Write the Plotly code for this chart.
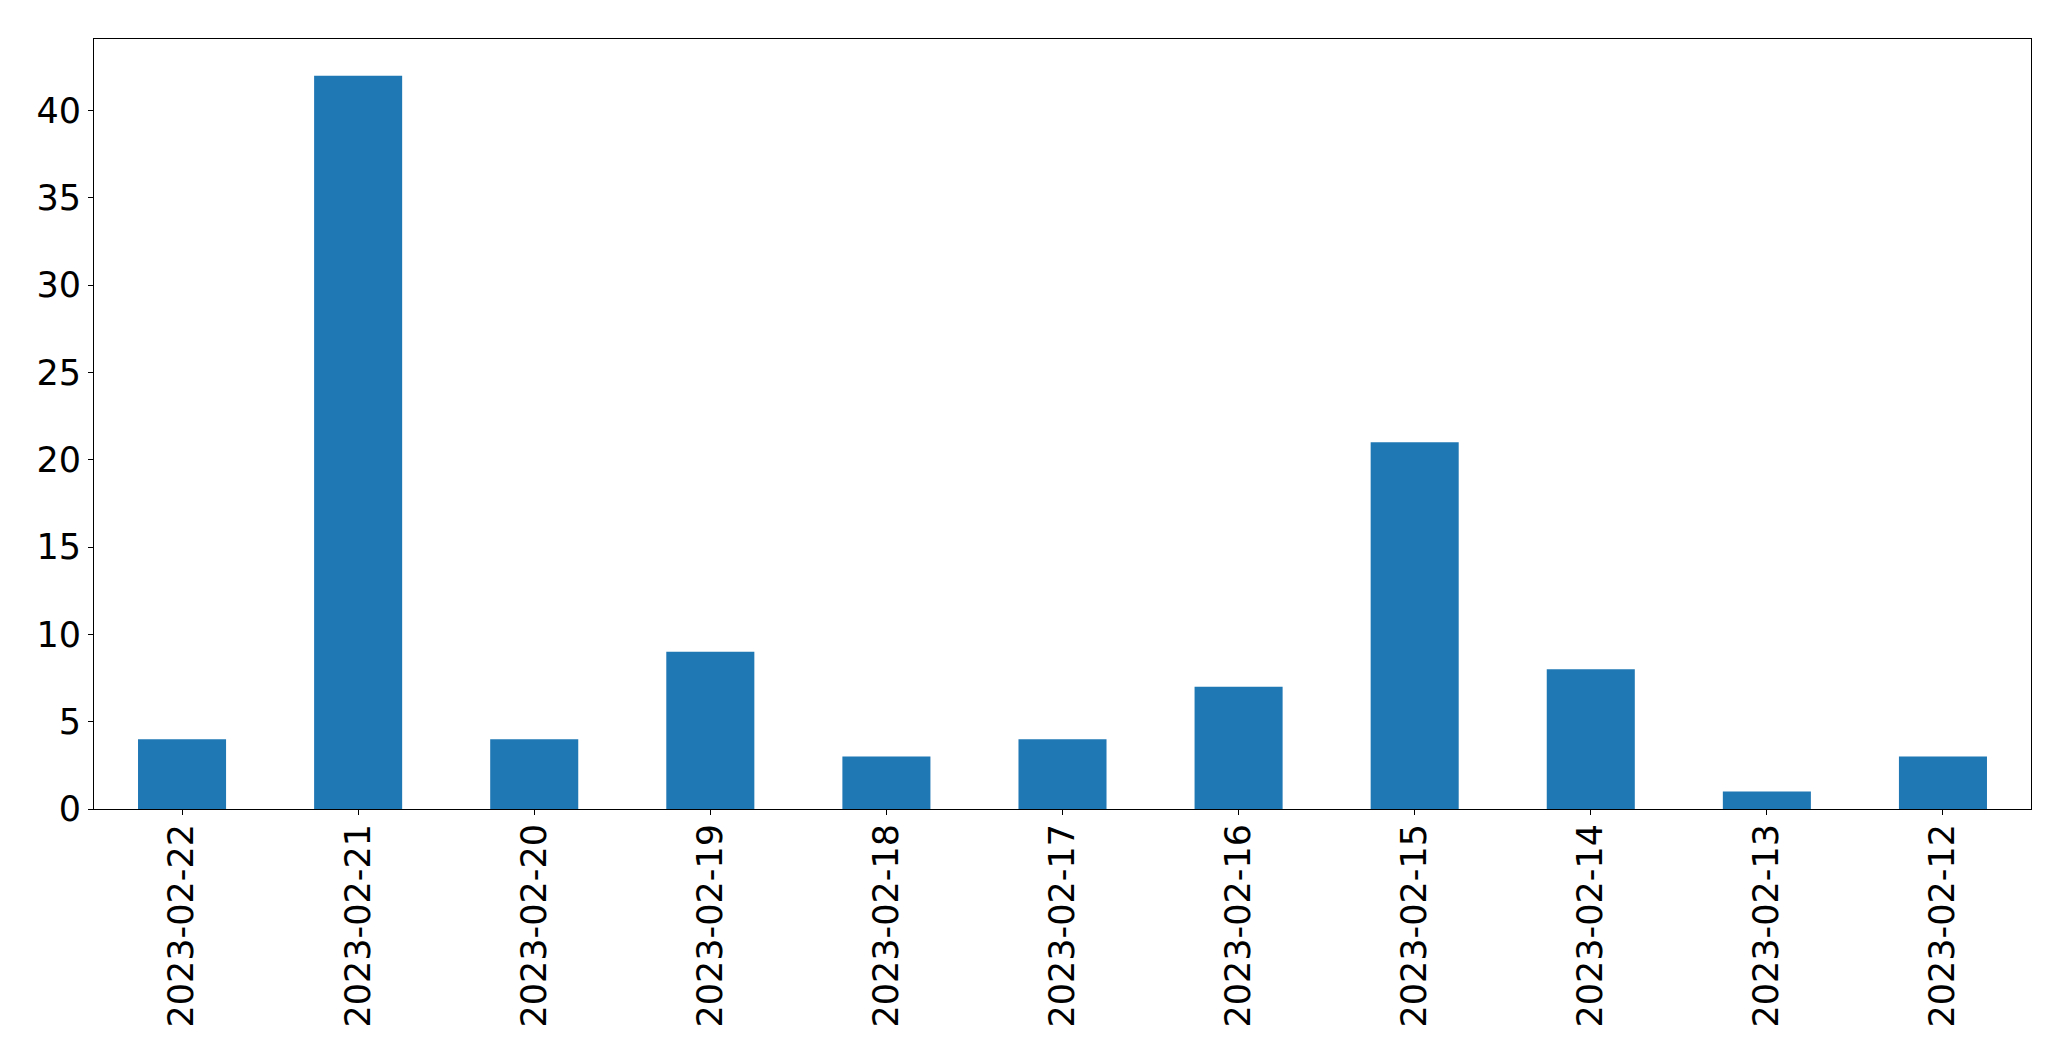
import plotly.graph_objects as go

dates = ["2023-02-22", "2023-02-21", "2023-02-20", "2023-02-19", "2023-02-18",
         "2023-02-17", "2023-02-16", "2023-02-15", "2023-02-14", "2023-02-13", "2023-02-12"]
counts = [4, 42, 4, 9, 3, 4, 7, 21, 8, 1, 3]
y_ticks = [0, 5, 10, 15, 20, 25, 30, 35, 40]

fig = go.Figure(go.Bar(x=dates, y=counts, marker=dict(color="#1f77b4", line=dict(width=0))))

font = dict(family="DejaVu Sans", size=35, color="black")
fig.update_layout(
    width=2063, height=1053,
    margin=dict(l=86, r=40, t=31, b=252, autoexpand=False),
    paper_bgcolor="white", plot_bgcolor="white",
    bargap=0.5, showlegend=False,
    font=font,
)
fig.update_xaxes(
    type="category", range=[-0.5, len(dates) - 0.5], automargin=False,
    tickangle=-90, ticks="outside", ticklen=5, tickwidth=1.1, tickcolor="black",
    showline=True, linecolor="black", linewidth=1.1, mirror=True,
    showgrid=False, zeroline=False, tickfont=font, ticklabelstandoff=-5,
)
fig.update_yaxes(
    range=[0, 44.1], tickvals=y_ticks, ticktext=[str(v) for v in y_ticks], automargin=False,
    ticks="outside", ticklen=5, tickwidth=1.1, tickcolor="black",
    showline=True, linecolor="black", linewidth=1.1, mirror=True,
    showgrid=False, zeroline=False, tickfont=font, ticklabelstandoff=0,
)
fig.write_html("out.html")
